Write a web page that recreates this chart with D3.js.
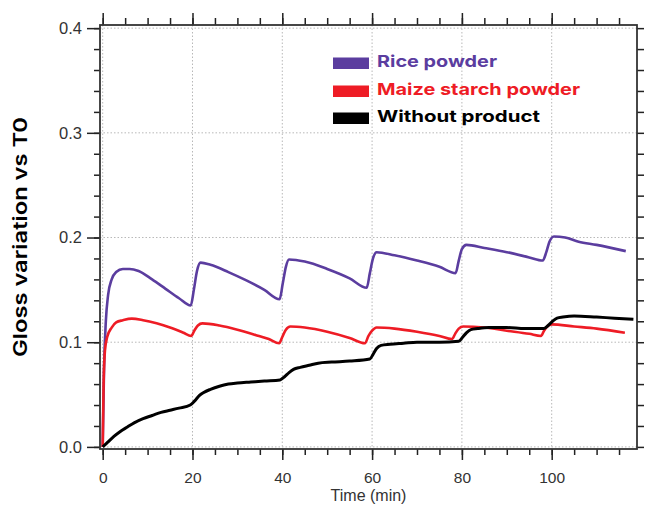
<!DOCTYPE html>
<html>
<head>
<meta charset="utf-8">
<script src="https://cdn.jsdelivr.net/npm/d3@7"></script>
<style>
  body { margin: 0; background: #fff; }
  svg { display: block; }
  .axis text { font-family: "Liberation Sans", Arial, sans-serif; fill: #333; }
  .axis path { display: none; }
  .axis line { stroke: #222; stroke-width: 1.5; }
</style>
</head>
<body>
<svg id="chart" width="646" height="506"></svg>
<script>
// gloss variation vs T0 over time, three treatments

var seriesNames = ["Rice powder", "Maize starch powder", "Without product"];
var seriesColors = ["#5b3d9f", "#ee1c25", "#000000"];

var riceTime = [0, 0.3, 0.7, 1.2, 2, 3, 4.5, 6, 8, 11, 14, 17, 19.6, 20.3, 21, 21.8, 24, 28, 32, 36, 39.4, 40.1, 40.8, 41.5, 45, 50, 55, 58.8, 59.5, 60.2, 61, 65, 70, 75, 78.6, 79.3, 80, 81, 85, 90, 95, 98, 98.8, 99.5, 100.5, 103, 106, 110, 116.5];
var riceValues = [0, 0.075, 0.12, 0.145, 0.160, 0.167, 0.170, 0.170, 0.168, 0.160, 0.151, 0.142, 0.135, 0.150, 0.168, 0.176, 0.174, 0.167, 0.159, 0.150, 0.141, 0.156, 0.172, 0.179, 0.177, 0.170, 0.161, 0.152, 0.166, 0.180, 0.186, 0.183, 0.178, 0.172, 0.166, 0.178, 0.189, 0.193, 0.190, 0.186, 0.181, 0.178, 0.186, 0.196, 0.201, 0.200, 0.196, 0.193, 0.187];

var maizeTime = [0, 0.2, 0.5, 1, 2, 3, 4.5, 6.5, 9, 12, 15, 18, 19.7, 20.4, 21.2, 22.2, 26, 30, 34, 37, 39.3, 40, 40.8, 41.8, 45, 50, 55, 58.4, 59.2, 60, 61, 65, 70, 75, 77.8, 78.5, 79.3, 80.3, 85, 90, 95, 97.6, 98.3, 99, 100, 105, 110, 116.3];
var maizeValues = [0, 0.06, 0.092, 0.105, 0.114, 0.119, 0.121, 0.1225, 0.121, 0.118, 0.114, 0.109, 0.106, 0.111, 0.116, 0.118, 0.116, 0.112, 0.107, 0.103, 0.099, 0.105, 0.112, 0.115, 0.114, 0.110, 0.104, 0.099, 0.106, 0.111, 0.114, 0.113, 0.110, 0.106, 0.103, 0.108, 0.113, 0.115, 0.114, 0.111, 0.108, 0.106, 0.111, 0.115, 0.117, 0.115, 0.113, 0.109];

var noneTime = [0, 1, 2.5, 4, 5.5, 7, 9, 11, 13, 15, 17, 19.5, 20.5, 21.5, 22.5, 24, 26, 28, 30, 33, 36, 39.5, 40.5, 41.5, 42.5, 44, 46, 48, 51, 55, 59.5, 60.3, 61, 62, 64, 67, 70, 75, 79.3, 80.2, 81, 82, 83.5, 86, 90, 94, 98.2, 99.2, 100.2, 101.2, 102.5, 105, 110, 114, 118.2];
var noneValues = [0, 0.004, 0.010, 0.015, 0.019, 0.023, 0.027, 0.030, 0.033, 0.035, 0.037, 0.040, 0.044, 0.049, 0.052, 0.055, 0.058, 0.060, 0.061, 0.062, 0.063, 0.064, 0.067, 0.071, 0.074, 0.076, 0.078, 0.080, 0.081, 0.082, 0.084, 0.089, 0.094, 0.097, 0.098, 0.099, 0.100, 0.100, 0.101, 0.105, 0.109, 0.112, 0.113, 0.114, 0.114, 0.113, 0.113, 0.116, 0.120, 0.123, 0.124, 0.125, 0.124, 0.123, 0.122];

var xMajor = [0, 20, 40, 60, 80, 100];
var yMajor = [0, 0.1, 0.2, 0.3, 0.4];

var svg = d3.select("#chart");

// plot box (window.top is reserved, so own names here)
var boxL = 100, boxR = 637, boxT = 25, boxB = 449;

var x = d3.scaleLinear().domain([-0.6, 119]).range([boxL, boxR]);
var y = d3.scaleLinear().domain([-0.002, 0.403]).range([boxB, boxT]);

var xMinor = d3.range(0, 116, 5);
var yMinor = d3.range(0, 0.401, 0.02);

// dotted grid
var grid = svg.append("g");
grid.selectAll(".gx").data(xMajor).enter().append("line")
  .attr("x1", d => x(d)).attr("x2", d => x(d))
  .attr("y1", boxT).attr("y2", boxB)
  .attr("stroke", "#b8b8b8").attr("stroke-dasharray", "1.5,2");
grid.selectAll(".gy").data(yMajor).enter().append("line")
  .attr("x1", boxL).attr("x2", boxR)
  .attr("y1", d => y(d)).attr("y2", d => y(d))
  .attr("stroke", "#b8b8b8").attr("stroke-dasharray", "1.5,2");

// axes
svg.append("g").attr("class", "axis")
  .attr("transform", "translate(0," + boxB + ")")
  .call(d3.axisBottom(x).tickValues(xMinor).tickSize(6).tickFormat(""));
svg.append("g").attr("class", "axis")
  .attr("transform", "translate(0," + boxB + ")")
  .call(d3.axisBottom(x).tickValues(xMajor).tickSize(11).tickPadding(12).tickFormat(d3.format("d")))
  .selectAll("text").style("font-size", "15.5px");

svg.append("g").attr("class", "axis")
  .attr("transform", "translate(0," + boxT + ")")
  .call(d3.axisTop(x).tickValues(xMinor).tickSize(7).tickFormat(""));
svg.append("g").attr("class", "axis")
  .attr("transform", "translate(0," + boxT + ")")
  .call(d3.axisTop(x).tickValues(xMajor).tickSize(12).tickFormat(""));

svg.append("g").attr("class", "axis")
  .attr("transform", "translate(" + boxL + ",0)")
  .call(d3.axisLeft(y).tickValues(yMinor).tickSize(6).tickFormat(""));
svg.append("g").attr("class", "axis")
  .attr("transform", "translate(" + boxL + ",0)")
  .call(d3.axisLeft(y).tickValues(yMajor).tickSize(13).tickPadding(5).tickFormat(d3.format(".1f")))
  .selectAll("text").style("font-size", "16.5px");

svg.append("g").attr("class", "axis")
  .attr("transform", "translate(" + boxR + ",0)")
  .call(d3.axisRight(y).tickValues(yMinor).tickSize(7).tickFormat(""));

// frame
svg.append("rect")
  .attr("x", boxL).attr("y", boxT)
  .attr("width", boxR - boxL).attr("height", boxB - boxT)
  .attr("fill", "none").attr("stroke", "#333").attr("stroke-width", 1.8);

// series
var series = [
  {name: seriesNames[0], color: seriesColors[0], pts: d3.zip(riceTime, riceValues)},
  {name: seriesNames[1], color: seriesColors[1], pts: d3.zip(maizeTime, maizeValues)},
  {name: seriesNames[2], color: seriesColors[2], pts: d3.zip(noneTime, noneValues)}
];

var line = d3.line()
  .x(d => x(d[0]))
  .y(d => y(d[1]))
  .curve(d3.curveMonotoneX);

svg.selectAll(".series").data(series).enter().append("path")
  .attr("class", "series")
  .attr("d", d => line(d.pts))
  .attr("fill", "none")
  .attr("stroke", d => d.color)
  .attr("stroke-width", d => d.color == "#000000" ? 3 : 2.6)
  .attr("stroke-linejoin", "round");

// legend
var legBase = [67, 95, 122];
var legWidth = [120, 203, 163];
var leg = svg.selectAll(".leg").data(series).enter().append("g").attr("class", "leg");
leg.append("rect")
  .attr("x", 333).attr("y", (d, i) => legBase[i] - 9.5)
  .attr("width", 36).attr("height", 11.5)
  .attr("fill", d => d.color);
leg.append("text")
  .attr("x", 377).attr("y", (d, i) => legBase[i])
  .attr("textLength", (d, i) => legWidth[i])
  .attr("lengthAdjust", "spacingAndGlyphs")
  .style("font-family", "Inter, 'Open Sans', sans-serif")
  .style("font-weight", 700)
  .style("font-size", "16.5px")
  .attr("fill", d => d.color)
  .text(d => d.name);

// axis titles
svg.append("text")
  .attr("x", (boxL + boxR) / 2).attr("y", 501)
  .attr("text-anchor", "middle")
  .style("font-family", "'Liberation Sans', Arial, sans-serif")
  .style("font-size", "16px")
  .attr("fill", "#333")
  .text("Time (min)");

svg.append("text")
  .attr("transform", "translate(27,237) rotate(-90)")
  .attr("text-anchor", "middle")
  .attr("textLength", 240)
  .attr("lengthAdjust", "spacingAndGlyphs")
  .style("font-family", "Inter, 'Open Sans', sans-serif")
  .style("font-weight", 600)
  .style("font-size", "19px")
  .attr("fill", "#000")
  .text("Gloss variation vs T0");
</script>
</body>
</html>
